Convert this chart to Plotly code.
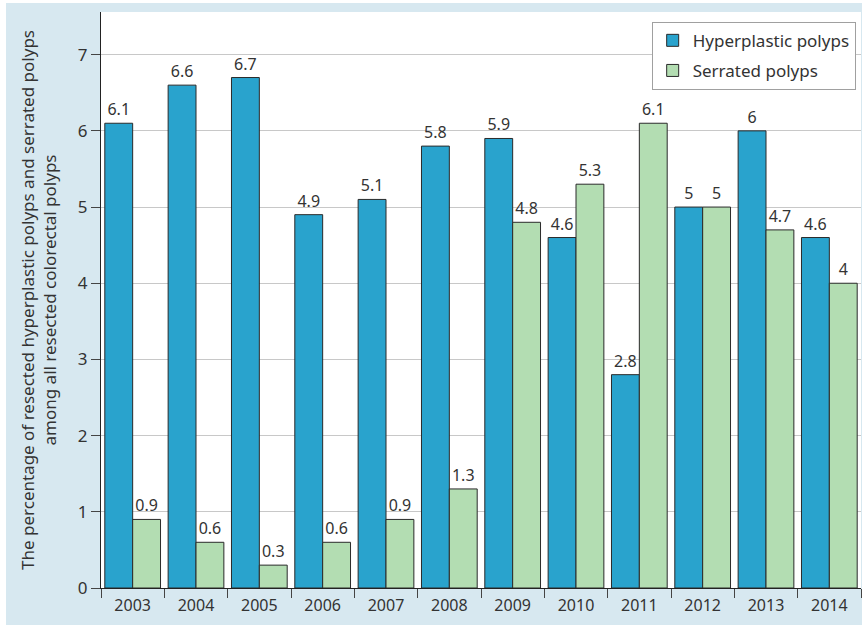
import plotly.graph_objects as go

years = ["2003", "2004", "2005", "2006", "2007", "2008", "2009", "2010", "2011", "2012", "2013", "2014"]
hyperplastic = [6.1, 6.6, 6.7, 4.9, 5.1, 5.8, 5.9, 4.6, 2.8, 5.0, 6.0, 4.6]
serrated = [0.9, 0.6, 0.3, 0.6, 0.9, 1.3, 4.8, 5.3, 6.1, 5.0, 4.7, 4.0]

font_family = "Noto Sans"
text_color = "#333333"

fig = go.Figure()

fig.add_trace(go.Bar(
    x=years,
    y=hyperplastic,
    name="Hyperplastic polyps",
    legendgroup="a",
    marker=dict(color="#29A3CD", line=dict(color="#2a2a2a", width=1)),
    text=[f"{v:g}" for v in hyperplastic],
    textposition="outside",
    textfont=dict(size=16, color=text_color),
    cliponaxis=False,
))

fig.add_trace(go.Bar(
    x=years,
    y=serrated,
    name="Serrated polyps",
    legendgroup="b",
    marker=dict(color="#B3DDB2", line=dict(color="#2a2a2a", width=1)),
    text=[f"{v:g}" for v in serrated],
    textposition="outside",
    textfont=dict(size=16, color=text_color),
    cliponaxis=False,
))

fig.update_layout(
    width=856,
    height=622,
    barmode="group",
    bargap=0.12,
    bargroupgap=0,
    paper_bgcolor="#D7E8F0",
    plot_bgcolor="white",
    font=dict(family=font_family, size=16, color=text_color),
    margin=dict(l=95, r=1, t=9, b=37),
    legend=dict(
        x=0.993, y=0.983, xanchor="right", yanchor="top",
        bgcolor="white", bordercolor="#A0A0A0", borderwidth=1,
        font=dict(size=17, color=text_color),
        traceorder="grouped",
        tracegroupgap=5,
    ),
)

fig.update_xaxes(
    showline=True, linecolor="#222222", linewidth=1,
    ticks="outside", ticklen=9, tickcolor="#444444",
    tickson="boundaries",
    tickfont=dict(size=16, color=text_color),
    ticklabelstandoff=3,
    showgrid=False,
)

fig.update_yaxes(
    range=[0, 7.56],
    tickvals=[0, 1, 2, 3, 4, 5, 6, 7],
    showline=True, linecolor="#222222", linewidth=1,
    ticks="outside", ticklen=9, tickcolor="#444444",
    tickfont=dict(size=17, color=text_color),
    showgrid=True, gridcolor="#C8C8C8", gridwidth=1,
    zeroline=False,
    title=dict(
        text="The percentage of resected hyperplastic polyps and serrated polyps<br>among all resected colorectal polyps",
        font=dict(size=17, color=text_color),
        standoff=16,
    ),
)

fig.write_html("out.html", config={"displayModeBar": False})

# small white page border like the reference
with open("out.html", encoding="utf-8") as f:
    page = f.read()
page = page.replace("<head>", "<head><style>html,body{margin:0;padding:0;overflow:hidden;background:white;} body{padding:3px 0 0 6px;}</style>", 1)
with open("out.html", "w", encoding="utf-8") as f:
    f.write(page)
